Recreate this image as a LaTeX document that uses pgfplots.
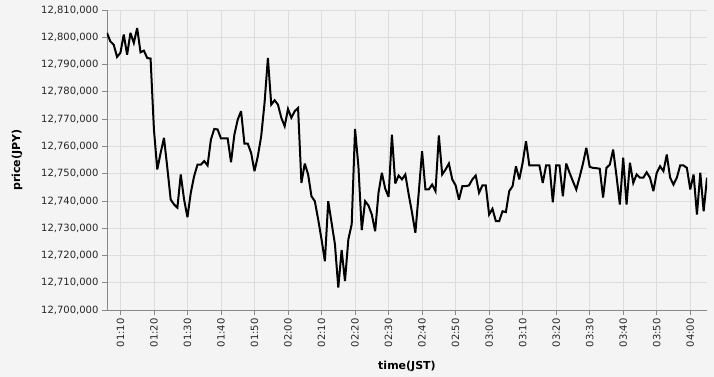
\documentclass[border=0pt]{standalone}
\usepackage{pgfplots}
\pgfplotsset{compat=1.18}
\usepackage{pgfplotstable}
\usepackage{fontspec}
\setmainfont{DejaVu Sans}
\definecolor{bg}{HTML}{F4F4F4}
\definecolor{gridc}{HTML}{DDDDDD}
\definecolor{axc}{HTML}{888888}
\pgfplotstableread{
t price
66 12801600
67 12798500
68 12797300
69 12792800
70 12794300
71 12801000
72 12793600
73 12801600
74 12797900
75 12803400
76 12794500
77 12795100
78 12792400
79 12792200
80 12766200
81 12751500
82 12757600
83 12763100
84 12752100
85 12740500
86 12738700
87 12737500
88 12749700
89 12740500
90 12734000
91 12743000
92 12749100
93 12753300
94 12753300
95 12754600
96 12753000
97 12762500
98 12766400
99 12766200
100 12762900
101 12762900
102 12762900
103 12754200
104 12764300
105 12769800
106 12772900
107 12761000
108 12761000
109 12757600
110 12750900
111 12756400
112 12763700
113 12775900
114 12792400
115 12775300
116 12776900
117 12775300
118 12770500
119 12767400
120 12773700
121 12770500
122 12772900
123 12774100
124 12746600
125 12753700
126 12749700
127 12741700
128 12739900
129 12733200
130 12725900
131 12717900
132 12739900
133 12732000
134 12724100
135 12708200
136 12722000
137 12710600
138 12725900
139 12731400
140 12766400
141 12752700
142 12729300
143 12739900
144 12738300
145 12735000
146 12728900
147 12743000
148 12750300
149 12744500
150 12741500
151 12764300
152 12746400
153 12749300
154 12747900
155 12749700
156 12742400
157 12735700
158 12728300
159 12743000
160 12758200
161 12744200
162 12744200
163 12746000
164 12743600
165 12764000
166 12749700
167 12751500
168 12753700
169 12747900
170 12745700
171 12740500
172 12745400
173 12745400
174 12745700
175 12747900
176 12749300
177 12743000
178 12745700
179 12745700
180 12735000
181 12737100
182 12732600
183 12732600
184 12736200
185 12735900
186 12743600
187 12745400
188 12752700
189 12747900
190 12754000
191 12761900
192 12753000
193 12753000
194 12753000
195 12753000
196 12746600
197 12753000
198 12753000
199 12739500
200 12753000
201 12753000
202 12741700
203 12753700
204 12750300
205 12747200
206 12744200
207 12748800
208 12753700
209 12759500
210 12752500
211 12752100
212 12752000
213 12751800
214 12741200
215 12752100
216 12753300
217 12758800
218 12749100
219 12738700
220 12755800
221 12738700
222 12754000
223 12746600
224 12749700
225 12748500
226 12748500
227 12750500
228 12748500
229 12743600
230 12750300
231 12752700
232 12750900
233 12757000
234 12748500
235 12746000
236 12748500
237 12753000
238 12753000
239 12752100
240 12744200
241 12749700
242 12735000
243 12750300
244 12736200
245 12748500
}\pricedata
\begin{document}
\begin{tikzpicture}
\fill[bg] (-107pt,-67pt) rectangle (607pt,310pt);
\begin{axis}[
  at={(0pt,0pt)}, anchor=south west,
  scale only axis, width=600pt, height=300pt,
  xmin=66, xmax=245,
  ymin=12700000, ymax=12810000,
  axis x line*=bottom, axis y line*=left,
  axis line style={draw=axc, line width=0.8pt, -},
  xtick={70,80,90,100,110,120,130,140,150,160,170,180,190,200,210,220,230,240},
  xticklabels={01:10,01:20,01:30,01:40,01:50,02:00,02:10,02:20,02:30,02:40,02:50,03:00,03:10,03:20,03:30,03:40,03:50,04:00},
  ytick={12700000,12710000,12720000,12730000,12740000,12750000,12760000,12770000,12780000,12790000,12800000,12810000},
  scaled y ticks=false,
  yticklabel style={/pgf/number format/.cd, fixed, precision=0, 1000 sep={,}, assume math mode=true},
  ticklabel style={font=\fontsize{10}{12}\selectfont, text=black!85},
  xticklabel style={rotate=90, anchor=east},
  tick align=outside, major tick length=5pt,
  tick style={draw=axc, line width=0.8pt},
  grid=major, major grid style={draw=gridc, line width=0.8pt},
  xlabel={time(JST)}, ylabel={price(JPY)},
  label style={font=\fontsize{11}{13}\selectfont\bfseries},
  xlabel style={at={(axis description cs:0.5,-0.1867)}, anchor=center},
  ylabel style={at={(axis description cs:-0.15,0.5)}, anchor=center},
  axis on top=false,
]
\addplot[black, line width=2pt, line join=miter, miter limit=4] table[x=t, y=price] {\pricedata};
\end{axis}
\pgfresetboundingbox
\path[use as bounding box] (-107pt,-67pt) rectangle (607pt,310pt);
\end{tikzpicture}
\end{document}
